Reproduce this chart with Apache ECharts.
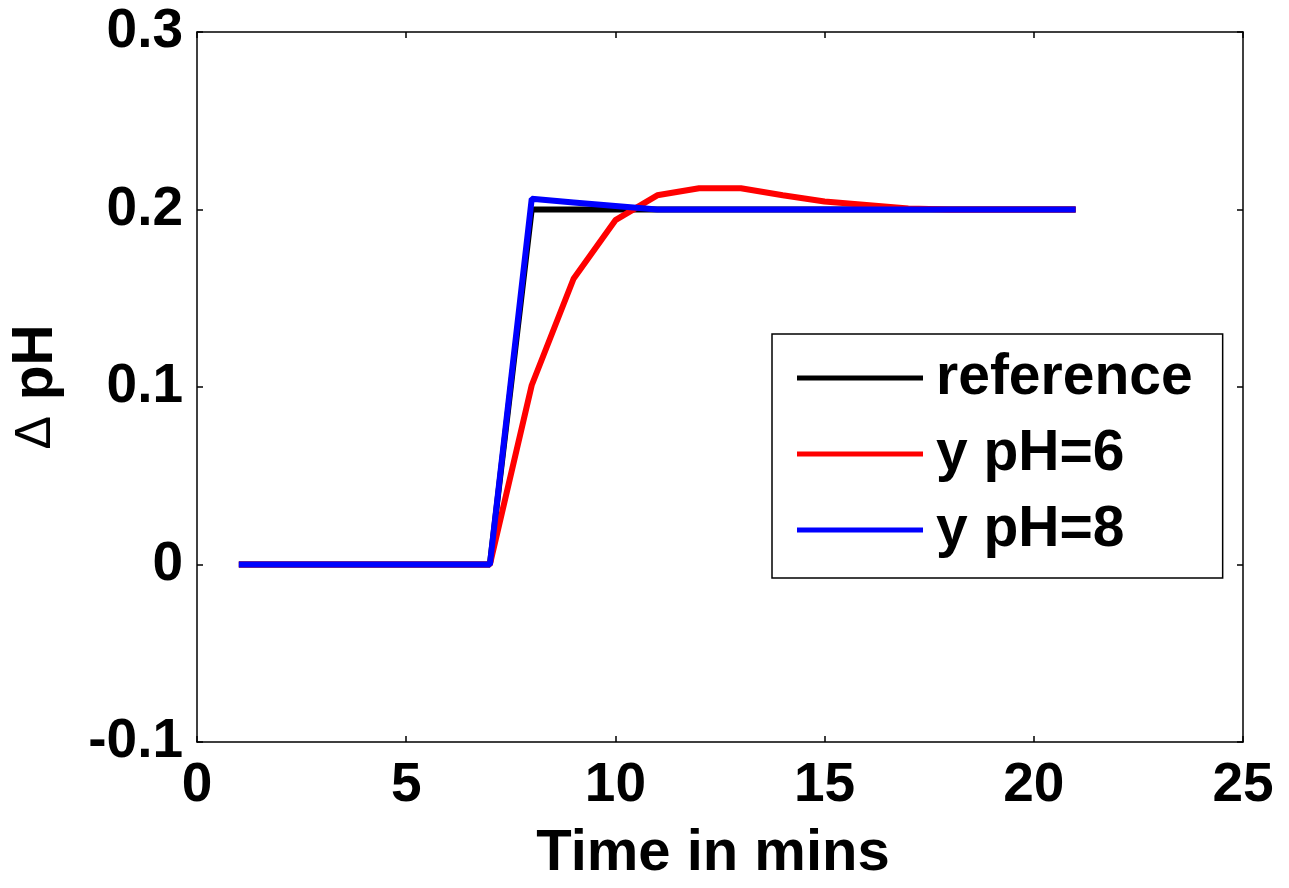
<!DOCTYPE html>
<html>
<head>
<meta charset="utf-8">
<title>Δ pH step response</title>
<script src="https://cdn.jsdelivr.net/npm/echarts@6/dist/echarts.min.js"></script>
<style>
  html, body { margin: 0; padding: 0; background: #fff; }
  #chart { width: 1289px; height: 888px; }
</style>
</head>
<body>
<div id="chart"></div>
<script>
// Sample times (minutes)
const timeMins = [1, 2, 3, 4, 5, 6, 7, 8, 9, 10, 11, 12, 13, 14, 15, 16, 17, 18, 19, 20, 21];

// Setpoint step and the two responses
const referenceValues = [0, 0, 0, 0, 0, 0, 0, 0.2, 0.2, 0.2, 0.2, 0.2, 0.2, 0.2, 0.2, 0.2, 0.2, 0.2, 0.2, 0.2, 0.2];
const yPH6Values = [0, 0, 0, 0, 0, 0, 0, 0.101, 0.161, 0.194, 0.208, 0.212, 0.212, 0.208, 0.2045, 0.2025, 0.2005, 0.2, 0.2, 0.2, 0.2];
const yPH8Values = [0, 0, 0, 0, 0, 0, 0, 0.206, 0.204, 0.202, 0.2, 0.2, 0.2, 0.2, 0.2, 0.2, 0.2, 0.2, 0.2, 0.2, 0.2];

const seriesNames = ['reference', 'y pH=6', 'y pH=8'];
const seriesColors = ['#000000', '#ff0000', '#0000ff'];
const seriesValues = [referenceValues, yPH6Values, yPH8Values];

// Axis ranges
const xRange = { min: 0, max: 25, interval: 5 };
const yRange = { min: -0.1, max: 0.3, interval: 0.1 };

const FONT = '"Liberation Sans", Arial, Helvetica, sans-serif';

function pairs(xs, ys) {
  return xs.map((x, i) => [x, ys[i]]);
}

const tickStyle = { show: true, inside: true, length: 6, lineStyle: { color: '#000', width: 1.5 } };
const lineStyle = { color: '#000', width: 1.5 };

const chart = echarts.init(document.getElementById('chart'), null, { renderer: 'canvas' });

chart.setOption({
  backgroundColor: '#ffffff',
  animation: false,
  grid: { left: 197, right: 46, top: 32, bottom: 145, containLabel: false },
  xAxis: [
    {
      type: 'value',
      min: xRange.min, max: xRange.max, interval: xRange.interval,
      name: 'Time in mins',
      nameLocation: 'middle',
      nameGap: 83,
      nameTextStyle: { fontFamily: FONT, fontWeight: 'bold', fontSize: 58, color: '#000', padding: [0, 14, 0, 0] },
      axisLine: { show: true, onZero: false, lineStyle },
      axisTick: tickStyle,
      splitLine: { show: false },
      axisLabel: { fontFamily: FONT, fontWeight: 'bold', fontSize: 55, color: '#000', margin: 16 }
    },
    {
      type: 'value', position: 'top',
      min: xRange.min, max: xRange.max, interval: xRange.interval,
      axisLine: { show: true, onZero: false, lineStyle },
      axisTick: tickStyle,
      splitLine: { show: false },
      axisLabel: { show: false }
    }
  ],
  yAxis: [
    {
      type: 'value',
      min: yRange.min, max: yRange.max, interval: yRange.interval,
      name: '{d|Δ}{t| pH}',
      nameLocation: 'middle',
      nameRotate: 90,
      nameGap: 132,
      nameTextStyle: {
        color: '#000',
        rich: {
          d: { fontFamily: FONT, fontWeight: 'normal', fontSize: 50, color: '#000' },
          t: { fontFamily: FONT, fontWeight: 'bold', fontSize: 57, color: '#000' }
        }
      },
      axisLine: { show: true, onZero: false, lineStyle },
      axisTick: tickStyle,
      splitLine: { show: false },
      axisLabel: {
        fontFamily: FONT, fontWeight: 'bold', fontSize: 55, color: '#000', margin: 14,
        formatter: v => String(parseFloat(v.toFixed(1)))
      }
    },
    {
      type: 'value', position: 'right',
      min: yRange.min, max: yRange.max, interval: yRange.interval,
      axisLine: { show: true, onZero: false, lineStyle },
      axisTick: tickStyle,
      splitLine: { show: false },
      axisLabel: { show: false }
    }
  ],
  legend: {
    orient: 'vertical',
    left: 772,
    top: 334,
    data: seriesNames,
    icon: 'rect',
    itemWidth: 126,
    itemHeight: 5,
    itemGap: 10,
    padding: [11, 30, 15, 25],
    borderColor: '#000',
    borderWidth: 1.5,
    backgroundColor: '#fff',
    textStyle: { fontFamily: FONT, fontWeight: 'bold', fontSize: 57, color: '#000', lineHeight: 66, padding: [0, 0, 0, 8] },
    selectedMode: false
  },
  series: seriesNames.map((name, i) => ({
    name,
    type: 'line',
    data: pairs(timeMins, seriesValues[i]),
    showSymbol: false,
    symbol: 'none',
    color: seriesColors[i],
    lineStyle: { color: seriesColors[i], width: 6 },
    itemStyle: { color: seriesColors[i] },
    z: 2 + i
  }))
});
</script>
</body>
</html>
